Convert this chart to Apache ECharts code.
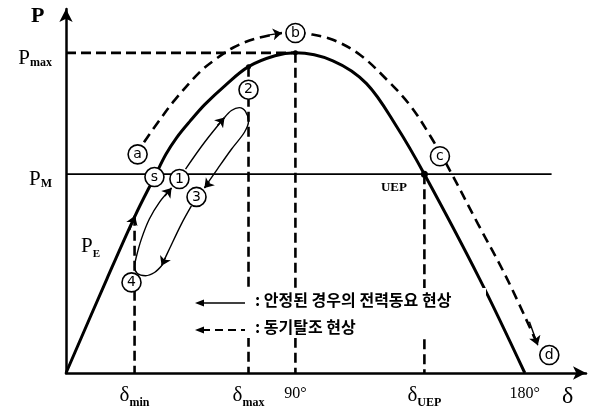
<!DOCTYPE html>
<html>
<head>
<meta charset="utf-8">
<script src="https://cdn.jsdelivr.net/npm/echarts@6/dist/echarts.min.js"></script>
<style>
  html, body { margin: 0; padding: 0; background: #fff; }
  #chart { width: 599px; height: 409px; }
</style>
</head>
<body>
<div id="chart"></div>
<script>
// Power-angle curve (P-δ), angles in degrees, power in per unit of Pmax
const pMax = 1.0;
const pM = 0.621;
const deltaMin = 26.9;
const deltaMax = 71.6;
const deltaUEP = 140.6;

// Electrical power curve P_E
const peCurve = [
  [0, 0], [16.1, 0.295], [27.1, 0.491], [34.9, 0.615], [39.2, 0.683],
  [43.5, 0.736], [48.6, 0.786], [54.5, 0.839], [62.4, 0.898], [71.6, 0.957],
  [82.0, 0.991], [90, 1.0], [104.7, 0.975], [117.9, 0.904], [129.7, 0.77],
  [140.6, 0.621], [162.2, 0.295], [180, 0]
];

// Loss of synchronism path (a -> b -> c -> d)
const unstableRise = [
  [30.6, 0.721], [36.9, 0.792], [42.8, 0.854], [52.6, 0.941], [58.5, 0.979],
  [65.5, 1.016], [74.1, 1.044], [84.7, 1.062]
];
const unstableFall = [
  [90, 1.062], [95.3, 1.059], [104.7, 1.041], [115.3, 0.994], [125.9, 0.916],
  [135.0, 0.836], [142.8, 0.742], [149.9, 0.643], [161.6, 0.466],
  [173.0, 0.295], [185.1, 0.087]
];

// Stable power swing loop (1 -> 2 -> 3 -> 4 -> 1)
const swingUp = [[46.9, 0.637], [54.3, 0.72], [62.2, 0.798]];
const swingTop = [
  [62.2, 0.798], [64.9, 0.82], [68.0, 0.829], [70.4, 0.817], [71.6, 0.786],
  [70.0, 0.752], [64.9, 0.699], [59.4, 0.637], [54.3, 0.578]
];
const swingDown = [[49.2, 0.522], [45.3, 0.466], [40.6, 0.388], [37.5, 0.335]];
const swingBottom = [
  [37.5, 0.335], [34.7, 0.314], [31.2, 0.304], [28.0, 0.311], [26.9, 0.332],
  [27.6, 0.363], [29.6, 0.419], [32.7, 0.481], [36.7, 0.534], [41.4, 0.578]
];

// Arrowheads: [from, tip]
const arrowHeads = [
  [[38.8, 0.553], [41.4, 0.578]],
  [[59.4, 0.773], [62.2, 0.798]],
  [[56.3, 0.596], [54.3, 0.578]],
  [[39.0, 0.36], [37.5, 0.335]],
  [[79.8, 1.056], [84.7, 1.062]],
  [[181.8, 0.16], [185.1, 0.087]],
  [[25.0, 0.447], [27.1, 0.491]]
];

// Circled state markers
const markerNames = ['a', 'b', 'c', 'd', 's', '1', '2', '3', '4'];
const markerPos = [
  [28.1, 0.683], [90, 1.062], [146.7, 0.677], [189.6, 0.056], [34.7, 0.612],
  [44.5, 0.606], [71.6, 0.885], [51.2, 0.55], [25.7, 0.283]
];

// Axis tick labels
const xTickValues = [deltaMin, deltaMax, 90, deltaUEP, 180];
const xTickLabels = ['{d|δ}{s|min}', '{d|δ}{s|max}', '{n|90°}', '{d|δ}{s|UEP}', '{n|180°}'];
const yTickValues = [pM, pMax];
const yTickLabels = ['{p|P}{s|M}', '{p|P}{s|max}'];

const serif = '"Liberation Serif", "DejaVu Serif", serif';
const kr = '"Noto Sans CJK KR", sans-serif';

const dashedRef = { color: '#000', width: 2.6, type: [10, 5] };
function refLine(pts, style) {
  return {
    type: 'line', data: pts, symbol: 'none', silent: true, z: 2,
    lineStyle: style, animation: false
  };
}
function path(pts, style, z) {
  return {
    type: 'line', data: pts, symbol: 'none', smooth: 0.35, silent: true,
    z: z || 3, lineStyle: style, animation: false
  };
}

const chart = echarts.init(document.getElementById('chart'), null, { renderer: 'canvas' });

chart.setOption({
  animation: false,
  backgroundColor: '#fff',
  grid: { left: 66, right: 13, top: 9, bottom: 34 },
  xAxis: {
    type: 'value', min: 0, max: 204,
    splitLine: { show: false },
    axisTick: { show: false },
    axisLine: {
      onZero: false,
      symbol: ['none', 'arrow'], symbolSize: [10, 13],
      lineStyle: { color: '#000', width: 2.5 }
    },
    axisLabel: {
      customValues: xTickValues,
      margin: 14,
      color: '#000',
      formatter: function (v) {
        const i = xTickValues.findIndex(t => Math.abs(t - v) < 1e-6);
        return i >= 0 ? xTickLabels[i] : '';
      },
      rich: {
        d: { fontFamily: serif, fontSize: 21, color: '#000', verticalAlign: 'bottom', lineHeight: 22, padding: [0, 0, 3, 0] },
        s: { fontFamily: serif, fontSize: 12, fontWeight: 'bold', color: '#000', verticalAlign: 'bottom', lineHeight: 12 },
        n: { fontFamily: serif, fontSize: 16, color: '#000', verticalAlign: 'bottom', lineHeight: 16, padding: [0, 0, 1, 0] }
      }
    }
  },
  yAxis: {
    type: 'value', min: 0, max: 1.137,
    splitLine: { show: false },
    axisTick: { show: false },
    axisLine: {
      onZero: false,
      symbol: ['none', 'arrow'], symbolSize: [10, 13],
      lineStyle: { color: '#000', width: 2.5 }
    },
    axisLabel: {
      customValues: yTickValues,
      margin: 14,
      padding: [10, 0, 0, 0],
      color: '#000',
      formatter: function (v) {
        const i = yTickValues.findIndex(t => Math.abs(t - v) < 1e-6);
        return i >= 0 ? yTickLabels[i] : '';
      },
      rich: {
        p: { fontFamily: serif, fontSize: 21, color: '#000', verticalAlign: 'bottom', lineHeight: 22 },
        s: { fontFamily: serif, fontSize: 12, fontWeight: 'bold', color: '#000', verticalAlign: 'bottom', lineHeight: 12 }
      }
    }
  },
  graphic: [
    { type: 'text', left: 31, top: 5, style: { text: 'P', font: 'bold 22px ' + serif, fill: '#000' } },
    { type: 'text', left: 562, top: 385, style: { text: 'δ', font: '24px ' + serif, fill: '#000' } },
    { type: 'text', left: 81, top: 236, style: { text: '{p|P}{s|E}', rich: {
      p: { fontFamily: serif, fontSize: 21, fill: '#000', verticalAlign: 'bottom', lineHeight: 22, padding: [0, 0, 3, 0] },
      s: { fontFamily: serif, fontSize: 11, fontWeight: 'bold', fill: '#000', verticalAlign: 'bottom', lineHeight: 11 }
    } } },
    // legend backdrop
    { type: 'rect', z: 50, shape: { x: 246, y: 288, width: 240, height: 50 }, style: { fill: '#fff' } },
    // legend: stable swing
    { type: 'line', z: 51, shape: { x1: 200, y1: 303, x2: 245, y2: 303 }, style: { stroke: '#000', lineWidth: 1.5 } },
    { type: 'polygon', z: 51, shape: { points: [[195, 303], [204, 299.5], [204, 306.5]] }, style: { fill: '#000' } },
    { type: 'text', z: 51, left: 255, top: 292, style: { text: ': 안정된 경우의 전력동요 현상', font: 'bold 16px ' + kr, fill: '#000' } },
    // legend: loss of synchronism
    { type: 'line', z: 51, shape: { x1: 202, y1: 330, x2: 245, y2: 330 }, style: { stroke: '#000', lineWidth: 2, lineDash: [8, 5] } },
    { type: 'polygon', z: 51, shape: { points: [[195, 330], [204, 326.5], [204, 333.5]] }, style: { fill: '#000' } },
    { type: 'text', z: 51, left: 255, top: 319, style: { text: ': 동기탈조 현상', font: 'bold 16px ' + kr, fill: '#000' } }
  ],
  series: [
    // reference levels
    refLine([[0, pMax], [90, pMax]], dashedRef),
    refLine([[90, pMax], [90, 0]], dashedRef),
    refLine([[deltaMax, 0.957], [deltaMax, 0]], dashedRef),
    refLine([[deltaMin, 0.491], [deltaMin, 0]], dashedRef),
    refLine([[deltaUEP, pM], [deltaUEP, 0]], dashedRef),
    refLine([[0, pM], [190.5, pM]], { color: '#000', width: 1.8 }),
    // P_E curve
    path(peCurve, { color: '#000', width: 3 }, 4),
    // unstable trajectory
    path(unstableRise, { color: '#000', width: 2.6, type: [10, 6] }),
    path(unstableFall, { color: '#000', width: 2.6, type: [10, 6] }),
    // stable swing loop
    path(swingUp, { color: '#000', width: 1.4 }),
    path(swingTop, { color: '#000', width: 1.4 }),
    path(swingDown, { color: '#000', width: 1.4 }),
    path(swingBottom, { color: '#000', width: 1.4 }),
    {
      type: 'lines', coordinateSystem: 'cartesian2d', polyline: false, silent: true, z: 5,
      symbol: ['none', 'arrow'], symbolSize: 9,
      lineStyle: { color: '#000', width: 1.4, opacity: 1 },
      data: arrowHeads.map(c => ({ coords: c }))
    },
    // points on the curve
    {
      type: 'scatter', silent: true, z: 6, symbol: 'circle',
      data: [
        { value: [deltaMax, 0.957], symbolSize: 5 },
        { value: [90, pMax], symbolSize: 5 },
        { value: [deltaUEP, pM], symbolSize: 7,
          label: { show: true, formatter: 'UEP', position: [-40, 10],
                   fontFamily: serif, fontWeight: 'bold', fontSize: 13, color: '#000' } }
      ],
      itemStyle: { color: '#000', opacity: 1 }
    },
    // circled markers
    {
      type: 'scatter', silent: true, z: 10, symbol: 'circle', symbolSize: 19,
      data: markerPos.map((p, i) => ({ value: [p[0], p[1]], name: markerNames[i] })),
      itemStyle: { color: '#fff', borderColor: '#000', borderWidth: 1.6, opacity: 1 },
      label: {
        show: true, position: 'inside', formatter: p => p.name,
        fontFamily: '"DejaVu Sans", sans-serif', fontSize: 14, color: '#000'
      }
    }
  ]
});
</script>
</body>
</html>
